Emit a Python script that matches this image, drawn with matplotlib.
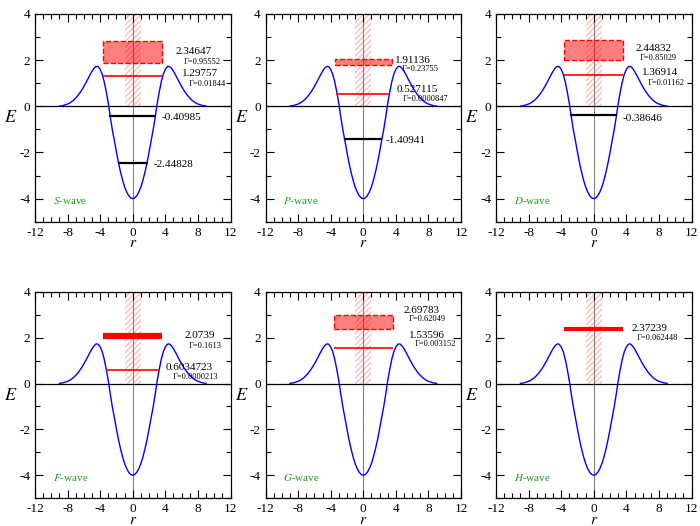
import numpy as np
import matplotlib
matplotlib.use("Agg")
import matplotlib.pyplot as plt
from matplotlib.patches import Rectangle
from matplotlib.ticker import MultipleLocator

plt.rcParams['font.family'] = ['Liberation Serif', 'DejaVu Serif']
plt.rcParams['mathtext.fontset'] = 'stix'
plt.rcParams['hatch.linewidth'] = 0.8
plt.rcParams['axes.unicode_minus'] = False

# potential curve
r = [-9.0, -8.75, -8.5, -8.25, -8.0, -7.75, -7.5, -7.25, -7.0, -6.75, -6.5, -6.25,
     -6.0, -5.75, -5.5, -5.25, -5.0, -4.75, -4.5, -4.25, -4.0, -3.75, -3.5, -3.25,
     -3.0, -2.75, -2.5, -2.25, -2.0, -1.75, -1.5, -1.25, -1.0, -0.75, -0.5, -0.25,
     0.0, 0.25, 0.5, 0.75, 1.0, 1.25, 1.5, 1.75, 2.0, 2.25, 2.5, 2.75,
     3.0, 3.25, 3.5, 3.75, 4.0, 4.25, 4.5, 4.75, 5.0, 5.25, 5.5, 5.75,
     6.0, 6.25, 6.5, 6.75, 7.0, 7.25, 7.5, 7.75, 8.0, 8.25, 8.5, 8.75, 9.0]
V = [0.01, 0.02, 0.04, 0.07, 0.10, 0.14, 0.20, 0.27, 0.36, 0.46, 0.58, 0.71,
     0.86, 1.02, 1.19, 1.36, 1.52, 1.65, 1.73, 1.72, 1.60, 1.39, 1.06, 0.62,
     0.12, -0.48, -1.03, -1.50, -1.99, -2.45, -2.85, -3.20, -3.49, -3.71, -3.87, -3.97,
     -4.00, -3.97, -3.87, -3.71, -3.49, -3.20, -2.85, -2.45, -1.99, -1.50, -1.03, -0.48,
     0.12, 0.62, 1.06, 1.39, 1.60, 1.72, 1.73, 1.65, 1.52, 1.36, 1.19, 1.02,
     0.86, 0.71, 0.58, 0.46, 0.36, 0.27, 0.20, 0.14, 0.10, 0.07, 0.04, 0.02, 0.01]

waves = ['S', 'P', 'D', 'F', 'G', 'H']

# energies, widths (None = bound state), and half length of each level line
energies = [
    [2.34647, 1.29757, -0.40985, -2.44828],
    [1.91136, 0.527115, -1.40941],
    [2.44832, 1.36914, -0.38646],
    [2.0739, 0.6034723],
    [2.69783, 1.53596],
    [2.37239],
]
widths = [
    [0.95552, 0.01844, None, None],
    [0.23755, 0.0000847, None],
    [0.85029, 0.01162, None],
    [0.1613, 0.0000213],
    [0.62049, 0.003152],
    [0.062448],
]
e_text = [
    ['2.34647', '1.29757', '-0.40985', '-2.44828'],
    ['1.91136', '0.527115', '-1.40941'],
    ['2.44832', '1.36914', '-0.38646'],
    ['2.0739', '0.6034723'],
    ['2.69783', '1.53596'],
    ['2.37239'],
]
g_text = [
    ['\u0393=0.95552', '\u0393=0.01844', None, None],
    ['\u0393=0.23755', '\u0393=0.0000847', None],
    ['\u0393=0.85029', '\u0393=0.01162', None],
    ['\u0393=0.1613', '\u0393=0.0000213'],
    ['\u0393=0.62049', '\u0393=0.003152'],
    ['\u0393=0.062448'],
]
half_len = [
    [3.6, 3.6, 2.75, 1.7],
    [3.5, 3.3, 2.2],
    [3.6, 3.6, 2.75],
    [3.6, 3.3],
    [3.6, 3.6],
    [3.6],
]

# label placement (x, y) for energy text and gamma text
lab_pos = [
    [(5.2, 2.36), (6.1, 1.41), (3.6, -0.49), (2.6, -2.54)],
    [(3.9, 2.0), (4.1, 0.75), (2.7, -1.5)],
    [(5.1, 2.51), (5.9, 1.45), (3.5, -0.52)],
    [(6.35, 2.08), (4.0, 0.72)],
    [(5.0, 3.2), (5.6, 2.08)],
    [(4.7, 2.4)],
]
gam_pos = [
    [(6.3, 1.93), (6.9, 0.98), None, None],
    [(4.7, 1.6), (4.9, 0.31), None],
    [(5.6, 2.1), (6.6, 1.02), None],
    [(6.9, 1.62), (4.85, 0.29)],
    [(5.6, 2.8), (6.3, 1.72)],
    [(5.3, 1.98)],
]

fig = plt.figure(figsize=(7, 5.26), dpi=100)
lefts = [0.05, 0.3793, 0.7086]
bottoms = [0.5785, 0.053]
heights = [0.3949, 0.392]

for k in range(6):
    row, col = k // 3, k % 3
    ax = fig.add_axes([lefts[col], bottoms[row], 0.2793, heights[row]])
    ax.set_xlim(-12, 12)
    ax.set_ylim(-5, 4)

    ax.axvline(0, color='#808080', lw=0.8, zorder=1)
    ax.axhline(0, color='black', lw=0.9, zorder=1)
    ax.add_patch(Rectangle((-1, 0), 2, 4, facecolor='none',
                           edgecolor=(1, 0.3, 0.3, 0.45), hatch='//////', lw=0, zorder=1))

    ax.plot(r, V, color='#0000ff', lw=1.0, zorder=3)

    for i, E in enumerate(energies[k]):
        g = widths[k][i]
        h = half_len[k][i]
        if g is None:
            ax.plot([-h, h], [E, E], color='black', lw=1.6, zorder=4)
        elif g > 0.2:
            ax.add_patch(Rectangle((-h, E - g / 2), 2 * h, g, facecolor=(1, 0, 0, 0.5),
                                   edgecolor='red', ls='--', lw=1.0, zorder=4))
        else:
            lw = 4.5 if g > 0.1 else (3.0 if g > 0.05 else 1.2)
            ax.plot([-h, h], [E, E], color='red', lw=lw, zorder=4,
                    solid_capstyle='butt')
        x, y = lab_pos[k][i]
        ax.text(x, y, e_text[k][i], fontsize=8, va='center', ha='left')
        if g_text[k][i] is not None:
            gx, gy = gam_pos[k][i]
            ax.text(gx, gy, g_text[k][i], fontsize=6, va='center', ha='left')

    ax.text(-9.8, -4.1, '$' + waves[k] + '$-wave', color='#1f9a1f', fontsize=8,
            va='center', ha='left')

    ax.xaxis.set_major_locator(MultipleLocator(4))
    ax.xaxis.set_minor_locator(MultipleLocator(1))
    ax.yaxis.set_major_locator(MultipleLocator(2))
    ax.yaxis.set_minor_locator(MultipleLocator(1))
    ax.tick_params(which='both', direction='in', top=True, right=True, labelsize=9.5)
    ax.tick_params(which='major', length=6, width=0.8)
    ax.tick_params(which='minor', length=3.5, width=0.8)
    ax.set_xlabel('$r$', fontsize=11, labelpad=-1)
    ax.set_ylabel('$E$', fontsize=13, rotation=0, labelpad=6, va='center')
    for s in ax.spines.values():
        s.set_linewidth(0.9)

fig.savefig('out.png', dpi=100)
